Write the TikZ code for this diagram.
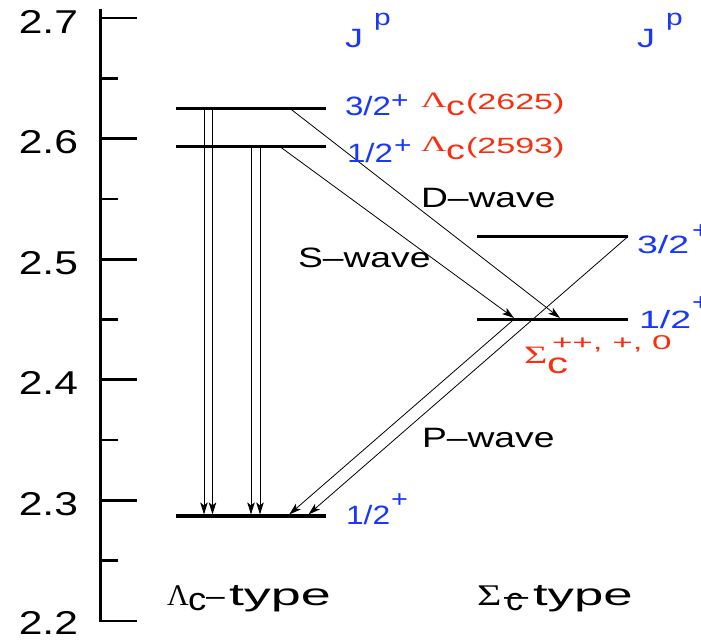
\documentclass[tikz,border=0pt]{standalone}
\usepackage{fontspec}
\setmainfont{Liberation Sans}
\newfontfamily\grk{Liberation Serif}
\usepackage{graphicx}
\usetikzlibrary{arrows.meta}
\definecolor{jblue}{RGB}{25,55,250}
\definecolor{lred}{RGB}{250,45,15}
\newcommand{\lbl}[3]{\scalebox{#2}[1]{\fontsize{#1}{#1}\selectfont #3}}
\begin{document}
\begin{tikzpicture}[x=1pt,y=-1pt,
  axisline/.style={line width=3pt},
  axtick/.style={line width=2.7pt},
  level/.style={line width=3.2pt},
  trans/.style={line width=0.8pt,-{Stealth[length=12pt,width=7.5pt,inset=3pt]}},
  txt/.style={inner sep=0pt,outer sep=0pt,anchor=base west},
  axlab/.style={inner sep=0pt,outer sep=0pt,anchor=base east},
  blu/.style={txt,text=jblue},
  rd/.style={txt,text=lred}]
\useasboundingbox (0,0) rectangle (701,641);
% axis
\coordinate (axtop) at (100,9);
\coordinate (axbot) at (100,622.4);
\draw[axisline] (axtop) -- (axbot);
\foreach \i/\yy/\lab/\dy in {0/18/2.7/15,1/138.6/2.6/15,2/259.2/2.5/15,3/379.8/2.4/15,4/500.4/2.3/15,5/621/2.2/13.5}{
  \draw[axtick] (100,\yy) -- (137,\yy);
  \node[axlab] (ax\i) at (78,\yy+\dy) {\lbl{33}{1.29}{\lab}};
}
\foreach \yy in {78.3,198.9,319.5,440.1,560.7}{
  \draw[axtick] (100,\yy) -- (118,\yy);
}
% levels
\coordinate (a1) at (176,108.5); \coordinate (a2) at (326,108.5);
\coordinate (b1) at (176,146.7); \coordinate (b2) at (326,146.7);
\coordinate (g1) at (176,516);   \coordinate (g2) at (326,516);
\coordinate (s1) at (477,236.5); \coordinate (s2) at (628,236.5);
\coordinate (t1) at (477,319.3); \coordinate (t2) at (628,319.3);
\draw[level] (a1) -- (a2);
\draw[level] (b1) -- (b2);
\draw[level] (g1) -- (g2);
\draw[level] (s1) -- (s2);
\draw[level] (t1) -- (t2);
% vertical transitions
\coordinate (v1s) at (204,108.5);   \coordinate (v1e) at (204,514.4);
\coordinate (v2s) at (212.5,108.5); \coordinate (v2e) at (212.5,514.4);
\coordinate (v3s) at (251,146.7);   \coordinate (v3e) at (251,514.4);
\coordinate (v4s) at (260,146.7);   \coordinate (v4e) at (260,514.4);
\draw[trans] (v1s) -- (v1e);
\draw[trans] (v2s) -- (v2e);
\draw[trans] (v3s) -- (v3e);
\draw[trans] (v4s) -- (v4e);
% D-wave and S-wave
\coordinate (ds) at (290,108.5); \coordinate (de) at (560,318);
\coordinate (ss) at (280,146.7); \coordinate (se) at (514,318);
\draw[trans] (ds) -- (de);
\draw[trans] (ss) -- (se);
% P-wave
\coordinate (ps) at (514,319.3); \coordinate (pe) at (289.3,514.4);
\coordinate (qe) at (308.5,514.4);
\draw[trans] (ps) -- (pe);
\draw[trans] (s2) -- (qe);
% J^p
\node[blu] (j1) at (345,47) {\lbl{26.5}{1.35}{J}};
\node[blu] (jp1) at (374,25) {\lbl{23}{1.3}{p}};
\node[blu] (j2) at (637,47) {\lbl{26.5}{1.35}{J}};
\node[blu] (jp2) at (666,25) {\lbl{23}{1.3}{p}};
% Lambda_c(2625)
\node[blu] (n1) at (345,115) {\lbl{26.5}{1.25}{3/2}};
\node[blu] (n1p) at (391,108) {\lbl{24}{1.25}{+}};
\node[rd] (l1) at (421,107.5) {\lbl{22}{1.6}{\grk Λ}};
\node[rd] (l1c) at (446,115) {\lbl{27}{1.4}{c}};
\node[rd] (l1m) at (466,109) {\lbl{22}{1.55}{(2625)}};
% Lambda_c(2593)
\node[blu] (n2) at (347,162) {\lbl{26.5}{1.25}{1/2}};
\node[blu] (n2p) at (394,153) {\lbl{24}{1.25}{+}};
\node[rd] (l2) at (421,151.5) {\lbl{22}{1.6}{\grk Λ}};
\node[rd] (l2c) at (446,159) {\lbl{27}{1.4}{c}};
\node[rd] (l2m) at (466,153) {\lbl{22}{1.55}{(2593)}};
% ground
\node[blu] (n3) at (346,524) {\lbl{26.5}{1.2}{1/2}};
\node[blu] (n3p) at (391,507) {\lbl{24}{1.2}{+}};
% Sigma levels
\node[blu] (n4) at (637,253) {\lbl{25}{1.5}{3/2}};
\node[blu] (n4p) at (692,238) {\lbl{24}{1.25}{+}};
\node[blu] (n5) at (639,328) {\lbl{25}{1.5}{1/2}};
\node[blu] (n5p) at (692,310) {\lbl{24}{1.25}{+}};
\node[rd] (sg) at (524,363) {\lbl{25}{1.6}{\grk Σ}};
\node[rd] (sgc) at (547,373) {\lbl{29}{1.45}{c}};
\node[rd] (sgs) at (552,349) {\lbl{20}{1.75}{++, +, 0}};
% wave labels
\node[txt] (dw) at (421,207) {\lbl{28}{1.33}{D–wave}};
\node[txt] (sw) at (298,267) {\lbl{28}{1.33}{S–wave}};
\node[txt] (pw) at (422,447) {\lbl{28}{1.33}{P–wave}};
% bottom labels
\node[txt] (lt) at (167,605) {\lbl{30}{1.0}{\grk Λ}};
\node[txt] (ltc) at (188,610) {\lbl{32}{1.14}{c}};
\node[txt] (ltd) at (206,605) {\lbl{28}{1.2}{–}};
\node[txt] (ltt) at (229,605) {\lbl{31}{1.74}{type}};
\node[txt] (st) at (477,605) {\lbl{30}{1.4}{\grk Σ}};
\node[txt] (stc) at (506,610) {\lbl{32}{1.07}{c}};
\node[txt] (std) at (504,605) {\lbl{28}{1.55}{–}};
\node[txt] (stt) at (533,605) {\lbl{31}{1.7}{type}};
\end{tikzpicture}
\end{document}
